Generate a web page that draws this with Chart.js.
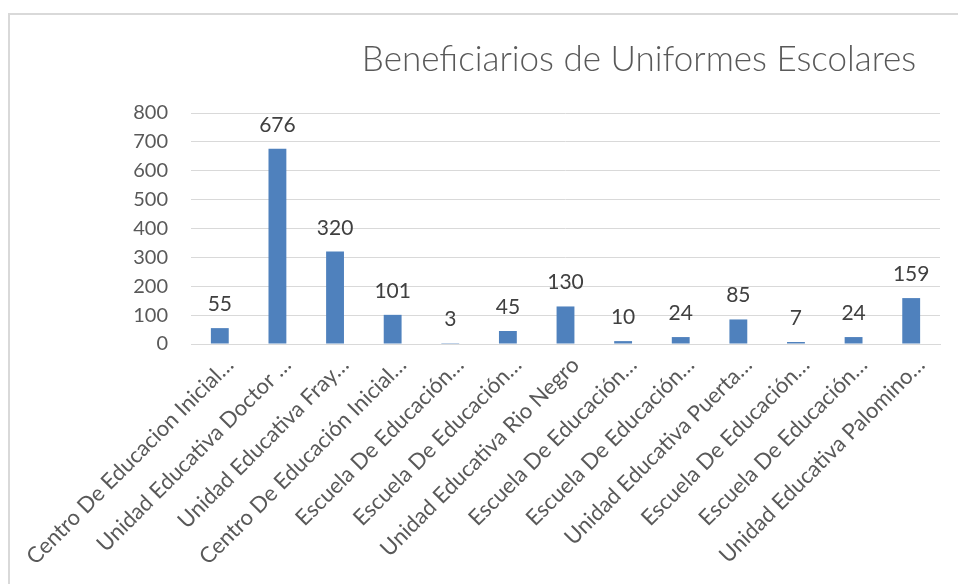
<!DOCTYPE html>
<html>
<head>
<meta charset="utf-8">
<script src="https://cdn.jsdelivr.net/npm/chart.js@4/dist/chart.umd.min.js"></script>
<style>
  html, body { margin: 0; padding: 0; background: #fff; overflow: hidden; }
  .frame {
    position: absolute; left: 8px; top: 13px; width: 1000px; height: 700px;
    border: 2px solid #d9d9d9;
  }
  .wrap { position: absolute; left: 0; top: 0; width: 958px; height: 584px; }
</style>
</head>
<body>
<div class="frame"></div>
<div class="wrap"><canvas id="chart" width="958" height="584"></canvas></div>
<script>
// --- data ---
const chartTitle = 'Beneficiarios de Uniformes Escolares';
const schools = [
  'Centro De Educacion Inicial…',
  'Unidad Educativa Doctor …',
  'Unidad Educativa Fray…',
  'Centro De Educación Inicial…',
  'Escuela De Educación…',
  'Escuela De Educación…',
  'Unidad Educativa Rio Negro',
  'Escuela De Educación…',
  'Escuela De Educación…',
  'Unidad Educativa Puerta…',
  'Escuela De Educación…',
  'Escuela De Educación…',
  'Unidad Educativa Palomino…',
];
const beneficiaries = [55, 676, 320, 101, 3, 45, 130, 10, 24, 85, 7, 24, 159];

const FONT = 'Lato';

// title + value labels drawn on top
const extrasPlugin = {
  id: 'extras',
  afterDatasetsDraw(chart) {
    const ctx = chart.ctx;
    ctx.save();
    ctx.fillStyle = '#404040';
    ctx.font = `21px ${FONT}`;
    ctx.textAlign = 'center';
    ctx.textBaseline = 'alphabetic';
    const meta = chart.getDatasetMeta(0);
    meta.data.forEach((bar, i) => {
      ctx.fillText(String(beneficiaries[i]), bar.x, bar.y - 17);
    });

    ctx.fillStyle = '#595959';
    ctx.font = `300 35px ${FONT}`;
    ctx.textBaseline = 'middle';
    ctx.fillText(chartTitle, 639, 60);
    ctx.restore();
  },
};

const ctx = document.getElementById('chart').getContext('2d');
new Chart(ctx, {
  type: 'bar',
  data: {
    labels: schools,
    datasets: [{
      data: beneficiaries,
      backgroundColor: '#4F81BD',
      borderWidth: 0,
      categoryPercentage: 1,
      barPercentage: 0.31,
    }],
  },
  options: {
    responsive: false,
    animation: false,
    layout: { padding: { top: 113, right: 18, left: 0, bottom: 0 } },
    plugins: {
      legend: { display: false },
      tooltip: { enabled: false },
      title: { display: false },
    },
    scales: {
      x: {
        grid: { display: false },
        border: { color: '#d9d9d9', width: 1 },
        ticks: {
          font: { family: FONT, size: 22 },
          color: '#595959',
          minRotation: 45,
          maxRotation: 45,
          autoSkip: false,
          padding: 0,
          labelOffset: 10,
        },
        afterFit(scale) { scale.height = 240; },
      },
      y: {
        min: 0,
        max: 800,
        grid: { color: '#d9d9d9', lineWidth: 1, drawTicks: false },
        border: { display: false },
        ticks: {
          stepSize: 100,
          font: { family: FONT, size: 20 },
          color: '#595959',
          padding: 23,
        },
        afterFit(scale) { scale.width = 191; },
      },
    },
  },
  plugins: [extrasPlugin],
});
</script>
</body>
</html>
